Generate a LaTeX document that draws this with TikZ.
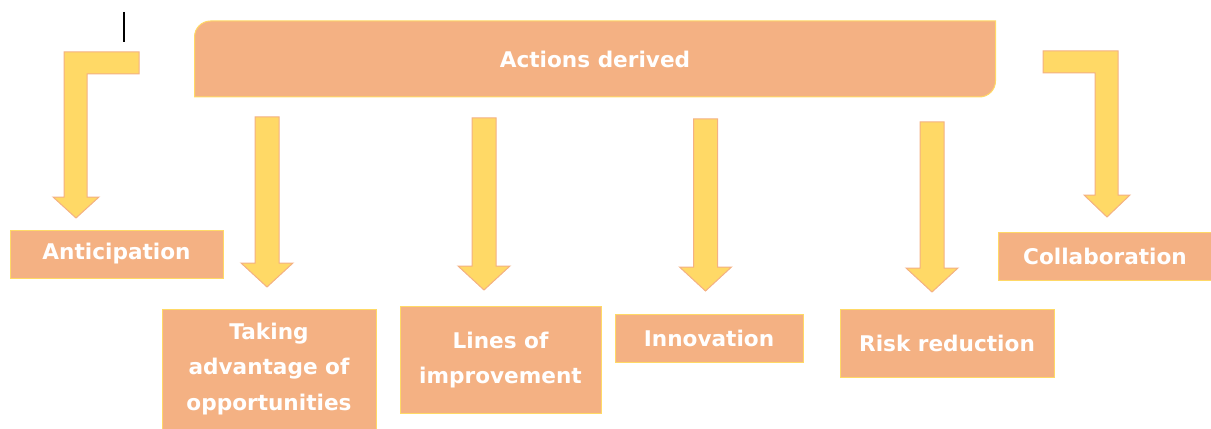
\documentclass[tikz,border=0pt]{standalone}
\usepackage{fontspec}
\setmainfont{DejaVu Sans}
\usetikzlibrary{backgrounds}

\definecolor{boxfill}{HTML}{F4B183}
\definecolor{boxline}{HTML}{FFD966}
\definecolor{arrowfill}{HTML}{FFD966}
\definecolor{arrowline}{HTML}{F4B183}

\newdimen\px \px=0.02cm

\tikzset{
  actionbox/.style={fill=boxfill,draw=boxline,line width=1\px,text=white,
    font=\bfseries\fontsize{12.3}{20}\selectfont,align=center,inner sep=0pt},
  blockarrow/.style={fill=arrowfill,draw=arrowline,line width=1\px}
}

\begin{document}
\begin{tikzpicture}[x=1\px,y=-1\px]

  \useasboundingbox (0,0) rectangle (1211,429);

  % header
  \node[actionbox,fill=none,draw=none,minimum width=800\px,minimum height=75\px]
    (actions) at (595,59) {Actions derived};
  \begin{scope}[on background layer]
    \filldraw[fill=boxfill,draw=boxline,line width=1\px]
      (actions.south west) -- ([yshift=-16\px]actions.north west)
      arc[start angle=180,end angle=90,radius=16\px] -- (actions.north east)
      -- ([yshift=16\px]actions.south east)
      arc[start angle=0,end angle=-90,radius=16\px] -- cycle;
  \end{scope}

  % results
  \node[actionbox,minimum width=213\px,minimum height=48\px] (anticip) at (116.5,254) {Anticipation};
  \node[actionbox,minimum width=214\px,minimum height=120\px] (taking) at (269,369) {Taking\\advantage of\\opportunities};
  \node[actionbox,minimum width=201\px,minimum height=107\px] (lines) at (500.5,360) {Lines of\\improvement};
  \node[actionbox,minimum width=188\px,minimum height=48\px] (innov) at (709,338) {Innovation};
  \node[actionbox,minimum width=214\px,minimum height=68\px] (risk) at (947,343) {Risk reduction};
  \node[actionbox,minimum width=214\px,minimum height=48\px] (collab) at (1105,256) {Collaboration};

  % straight arrows
  \foreach \cx/\top/\tip in {267/117/287, 484/118/290, 705.5/119/291, 932/122/292}
    \filldraw[blockarrow] (\cx-12,\top) -- (\cx+12,\top) -- (\cx+12,\tip-24)
      -- (\cx+26,\tip-24) -- (\cx,\tip) -- (\cx-26,\tip-24) -- (\cx-12,\tip-24) -- cycle;

  % elbow arrows
  \filldraw[blockarrow] (139,52) -- (139,74) -- (87,74) -- (87,197) -- (99,197)
    -- (76,218) -- (53,197) -- (64,197) -- (64,52) -- cycle;
  \filldraw[blockarrow] (1043,51) -- (1118,51) -- (1118,195) -- (1130,195)
    -- (1107,217) -- (1084,195) -- (1095,195) -- (1095,73) -- (1043,73) -- cycle;

  % cursor mark
  \draw[line width=2\px] (124,12) -- (124,42);

\end{tikzpicture}
\end{document}
